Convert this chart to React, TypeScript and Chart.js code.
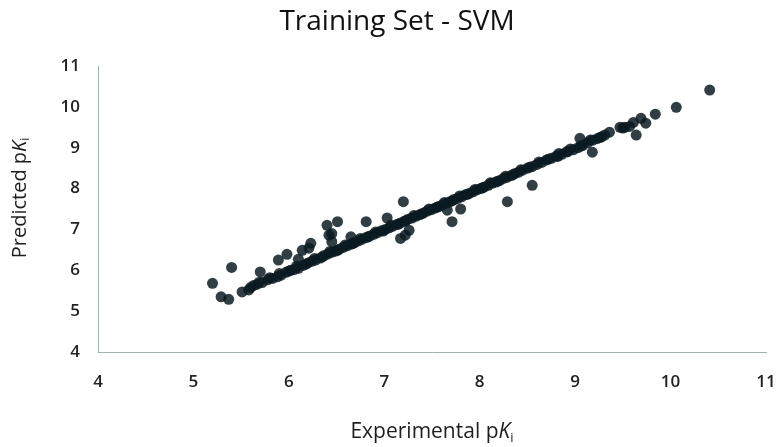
import React, { useEffect, useRef } from "react";
import { Chart, registerables } from "chart.js";

Chart.register(...registerables);

const chartTitle = "Training Set - SVM";
const xTitleMain = "Experimental p";
const yTitleMain = "Predicted p";
const titleItalic = "K";
const titleSub = "i";
const axisMin = 4;
const axisMax = 11;
const tickStep = 1;

// Experimental pKi values (x)
const experimental: number[] = [
  5.51, 5.58, 5.63, 5.67, 5.72, 5.78, 5.83, 5.88, 5.92, 5.97,
  6.02, 6.06, 6.10, 6.15, 6.20, 6.24, 6.28, 6.33, 6.37, 6.41,
  6.45, 6.49, 6.53, 6.57, 6.61, 6.65, 6.69, 6.73, 6.77, 6.81,
  6.85, 6.89, 6.93, 6.97, 7.01, 7.05, 7.09, 7.13, 7.17, 7.21,
  7.25, 7.29, 7.33, 7.37, 7.41, 7.45, 7.49, 7.53, 7.57, 7.61,
  7.65, 7.69, 7.73, 7.77, 7.81, 7.85, 7.89, 7.93, 7.97, 8.01,
  8.05, 8.09, 8.13, 8.17, 8.21, 8.25, 8.29, 8.33, 8.37, 8.41,
  8.45, 8.50, 8.55, 8.60, 8.65, 8.70, 8.75, 8.80, 8.86, 8.92,
  8.98, 9.03, 9.08, 9.13, 9.18, 9.23, 9.28, 9.47, 9.52, 9.57,
  9.84,
  5.60, 5.69, 5.80, 5.90, 6.00, 6.08, 6.18, 6.27, 6.35, 6.43,
  6.51, 6.59, 6.67, 6.75, 6.83, 6.91, 6.99, 7.07, 7.15, 7.23,
  7.31, 7.39, 7.47, 7.55, 7.63, 7.71, 7.79, 7.87, 7.95, 8.03,
  8.11, 8.19, 8.27, 8.35, 8.43, 8.52, 8.62, 8.72, 8.83, 8.95,
  9.06, 9.16, 9.26, 9.50,
  5.20, 5.40, 5.29, 5.37, 5.70, 5.89, 5.98, 6.10, 6.14, 6.21,
  6.23, 6.40, 6.42, 6.51, 6.45, 6.45, 6.65, 6.81, 7.03, 7.20,
  7.17, 7.22, 7.26, 7.71, 7.66, 7.80, 8.29, 8.55, 8.82, 8.91,
  9.05, 9.18, 9.31, 9.36, 9.61, 9.64, 9.69, 9.74, 10.06, 10.41,
];

// Predicted pKi values (y)
const predicted: number[] = [
  5.47, 5.52, 5.63, 5.66, 5.70, 5.77, 5.80, 5.84, 5.88, 5.95,
  6.00, 6.02, 6.05, 6.12, 6.18, 6.22, 6.25, 6.30, 6.36, 6.40,
  6.44, 6.47, 6.52, 6.56, 6.60, 6.64, 6.68, 6.72, 6.76, 6.80,
  6.84, 6.88, 6.92, 6.97, 7.00, 7.04, 7.08, 7.12, 7.16, 7.20,
  7.25, 7.28, 7.32, 7.36, 7.40, 7.45, 7.48, 7.52, 7.56, 7.60,
  7.64, 7.68, 7.73, 7.76, 7.80, 7.85, 7.88, 7.92, 7.97, 8.00,
  8.04, 8.08, 8.13, 8.16, 8.20, 8.25, 8.28, 8.32, 8.37, 8.40,
  8.45, 8.50, 8.54, 8.59, 8.64, 8.70, 8.74, 8.79, 8.84, 8.90,
  8.95, 9.00, 9.06, 9.12, 9.18, 9.22, 9.27, 9.50, 9.50, 9.52,
  9.82,
  5.58, 5.71, 5.82, 5.92, 5.98, 6.10, 6.15, 6.29, 6.33, 6.46,
  6.49, 6.62, 6.65, 6.78, 6.82, 6.94, 6.96, 7.10, 7.13, 7.22,
  7.34, 7.38, 7.50, 7.54, 7.66, 7.70, 7.82, 7.86, 7.98, 8.02,
  8.14, 8.18, 8.30, 8.34, 8.46, 8.52, 8.65, 8.72, 8.86, 8.97,
  9.04, 9.19, 9.25, 9.48,
  5.68, 6.07, 5.35, 5.29, 5.96, 6.25, 6.39, 6.27, 6.49, 6.54,
  6.66, 7.10, 6.86, 7.19, 6.90, 6.70, 6.82, 7.19, 7.28, 7.68,
  6.78, 6.86, 6.98, 7.19, 7.47, 7.50, 7.68, 8.08, 8.79, 8.90,
  9.23, 8.89, 9.31, 9.38, 9.62, 9.31, 9.72, 9.60, 9.99, 10.41,
];

const FONT = '"Open Sans", "DejaVu Sans", sans-serif';

function drawRich(ctx: CanvasRenderingContext2D, main: string, size: number) {
  const parts = [
    { t: main, font: `${size}px ${FONT}`, dy: 0 },
    { t: titleItalic, font: `italic ${size}px ${FONT}`, dy: 0 },
    { t: titleSub, font: `${Math.round(size * 0.62)}px ${FONT}`, dy: size * 0.3 },
  ];
  let total = 0;
  const widths = parts.map((p) => {
    ctx.font = p.font;
    const w = ctx.measureText(p.t).width;
    total += w;
    return w;
  });
  let x = -total / 2;
  ctx.textAlign = "left";
  ctx.textBaseline = "middle";
  parts.forEach((p, i) => {
    ctx.font = p.font;
    ctx.fillText(p.t, x, p.dy);
    x += widths[i];
  });
}

const textPlugin = {
  id: "richTexts",
  afterDraw(chart: any) {
    const ctx: CanvasRenderingContext2D = chart.ctx;
    const area = chart.chartArea;
    ctx.save();
    ctx.fillStyle = "#111111";
    ctx.font = `28px ${FONT}`;
    ctx.textAlign = "center";
    ctx.textBaseline = "middle";
    ctx.fillText(chartTitle, 397, 22);

    ctx.fillStyle = "#1e1e1e";
    ctx.save();
    ctx.translate((area.left + area.right) / 2, 432);
    drawRich(ctx, xTitleMain, 21);
    ctx.restore();

    ctx.save();
    ctx.translate(20, 198);
    ctx.rotate(-Math.PI / 2);
    drawRich(ctx, yTitleMain, 20);
    ctx.restore();
    ctx.restore();
  },
};

export default function App() {
  const ref = useRef<HTMLCanvasElement | null>(null);

  useEffect(() => {
    document.body.style.margin = "0";
    if (!ref.current) return;
    const points = experimental.map((x, i) => ({ x, y: predicted[i] }));
    const chart = new Chart(ref.current, {
      type: "scatter",
      data: {
        datasets: [
          {
            data: points,
            backgroundColor: "rgba(10,26,32,0.84)",
            borderWidth: 0,
            pointRadius: 5.5,
            pointHoverRadius: 5.5,
          },
        ],
      },
      options: {
        animation: false,
        responsive: true,
        maintainAspectRatio: false,
        layout: { padding: { top: 66, right: 15, left: 0, bottom: 0 } },
        plugins: {
          legend: { display: false },
          tooltip: { enabled: false },
          title: { display: false },
        },
        scales: {
          x: {
            type: "linear",
            min: axisMin,
            max: axisMax,
            grid: { display: false },
            border: { display: true, color: "#a3afb1", width: 1 },
            ticks: {
              stepSize: tickStep,
              padding: 12,
              color: "#222222",
              font: { family: FONT, size: 17, weight: 600 },
              maxRotation: 0,
            },
            afterFit(scale: any) {
              scale.height = 95;
              scale.paddingLeft = 0;
              scale.paddingRight = 0;
            },
          },
          y: {
            type: "linear",
            min: axisMin,
            max: axisMax,
            grid: { display: false },
            border: { display: true, color: "#a3afb1", width: 1 },
            ticks: {
              stepSize: tickStep,
              padding: 10,
              color: "#222222",
              font: { family: FONT, size: 17, weight: 600 },
            },
            afterFit(scale: any) {
              scale.width = 98;
              scale.paddingTop = 0;
              scale.paddingBottom = 0;
            },
          },
        },
      },
      plugins: [textPlugin],
    });
    return () => chart.destroy();
  }, []);

  return (
    <div style={{ width: 781, height: 447, position: "relative", background: "#fff" }}>
      <canvas ref={ref} />
    </div>
  );
}
